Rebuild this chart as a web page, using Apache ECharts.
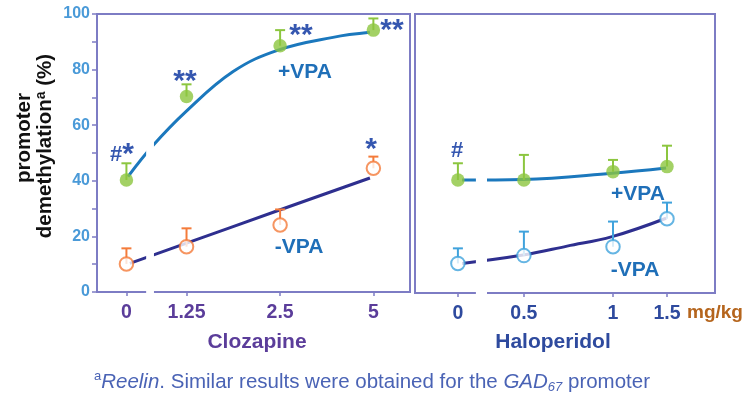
<!DOCTYPE html>
<html><head><meta charset="utf-8">
<script src="https://cdn.jsdelivr.net/npm/echarts@6/dist/echarts.min.js"></script>
<style>html,body{margin:0;padding:0;background:#fff}#c{width:747px;height:400px}</style>
</head><body><div id="c"></div>
<script>
// ---------------- data ----------------
const cloDoses = ['0', '1.25', '2.5', '5'];
const haloDoses = ['0', '0.5', '1', '1.5'];
const yTicks = [0, 20, 40, 60, 80, 100];

const cloPlus = [40.3, 70.3, 88.6, 94.2];
const cloPlusErrTop = [46.3, 74.7, 94.2, 98.4];
const cloMinus = [10.1, 16.3, 24.1, 44.5];
const cloMinusErrTop = [15.7, 22.9, 29.7, 48.7];

const haloPlus = [40.5, 40.5, 43.5, 45.3];
const haloPlusErrTop = [46.5, 49.5, 47.7, 52.8];
const haloMinus = [10.6, 13.4, 16.6, 26.6];
const haloMinusErrTop = [16.0, 22.0, 25.6, 32.4];

// fitted curves, values
const cloPlusFit = [41.5, 52.6, 64.9, 79.3, 87.1, 91.6, 93.4];
const cloMinusFit = [10.3, 17.5, 29.4, 41.0];
const haloPlusFit = [40.5, 40.7, 42.9, 44.8];
const haloMinusFit = [10.6, 13.6, 16.8, 20.2, 26.8];

// ---------------- layout (positions along each panel, % of width) ----------------
const cloX = [9.4, 28.6, 58.5, 88.3];
const haloX = [14.3, 36.3, 66.0, 84.0];
const cloPlusFitX = [9.9, 17.8, 28.4, 43.5, 58.1, 75.4, 87.2];
const cloMinusFitX = [10.5, 28.4, 58.1, 87.2];
const haloPlusFitX = [15.7, 36.0, 65.7, 83.7];
const haloMinusFitX = [15.7, 36.0, 50.7, 65.7, 83.7];
const gapL = [15.7, 18.2];
const gapR = [20.3, 24.0];

const FF = '"Liberation Sans", Arial, sans-serif';
const AX = '#7d7cc4';
const GREEN = '#8cc63f', ORANGE = '#f47b3a', LBLUE = '#3fa2dc';
const LINE_P = '#1b78bd', LINE_M = '#2e2f8f';
const STAR = '#3557b0', VPA = '#1f6fb8';

function nearestLabel(xs, labels) {
  return v => {
    let bi = 0;
    xs.forEach((x, i) => { if (Math.abs(x - v) < Math.abs(xs[bi] - v)) bi = i; });
    return labels[bi];
  };
}

function errSeries(idx, xs, tops, vals, color) {
  return {
    type: 'custom', xAxisIndex: idx, yAxisIndex: idx, z: 3, silent: true,
    data: xs.map((x, i) => [x, vals[i], tops[i]]),
    renderItem: (params, api) => {
      const p0 = api.coord([api.value(0), api.value(1)]);
      const p1 = api.coord([api.value(0), api.value(2)]);
      return {
        type: 'group', children: [
          { type: 'line', shape: { x1: p0[0], y1: p0[1], x2: p1[0], y2: p1[1] }, style: { stroke: color, lineWidth: 2 } },
          { type: 'line', shape: { x1: p1[0] - 5, y1: p1[1], x2: p1[0] + 5, y2: p1[1] }, style: { stroke: color, lineWidth: 2 } }
        ]
      };
    }
  };
}
function fitSeries(idx, xs, ys, color) {
  return {
    type: 'line', xAxisIndex: idx, yAxisIndex: idx, z: 2, smooth: 0.4, showSymbol: false, silent: true,
    data: xs.map((x, i) => [x, ys[i]]),
    lineStyle: { color: color, width: 3 }
  };
}
function dotSeries(idx, xs, ys, fill, stroke) {
  return {
    type: 'scatter', xAxisIndex: idx, yAxisIndex: idx, z: 5, symbol: 'circle', symbolSize: 13.5, silent: true,
    data: xs.map((x, i) => [x, ys[i]]),
    itemStyle: { color: fill, borderColor: stroke, borderWidth: stroke ? 2 : 0 }
  };
}
function xAxisCfg(idx, xs, labels, color) {
  return {
    type: 'value', gridIndex: idx, min: 0, max: 100,
    axisLine: { show: true, lineStyle: { color: AX, width: 2 } },
    splitLine: { show: false },
    axisTick: { show: true, customValues: xs, length: 4, lineStyle: { color: AX, width: 1.5 } },
    axisLabel: { customValues: xs, formatter: nearestLabel(xs, labels), color: color, fontSize: 19.5, fontWeight: 'bold', fontFamily: FF, margin: 11 }
  };
}

const chart = echarts.init(document.getElementById('c'));
const option = {
  animation: false,
  backgroundColor: '#fff',
  grid: [
    { left: 97, top: 14, width: 313, height: 278, show: true, borderColor: AX, borderWidth: 2 },
    { left: 415, top: 14, width: 300, height: 279, show: true, borderColor: AX, borderWidth: 2 }
  ],
  xAxis: [
    xAxisCfg(0, cloX, cloDoses, '#5b3d9a'),
    xAxisCfg(1, haloX, haloDoses, '#2e4a9e')
  ],
  yAxis: [
    {
      type: 'value', gridIndex: 0, min: 0, max: 100, interval: 20,
      axisLine: { show: true, lineStyle: { color: AX, width: 2 } },
      splitLine: { show: false },
      axisTick: { show: true, length: 5, lineStyle: { color: AX, width: 1.5 } },
      minorTick: { show: true, splitNumber: 2, length: 5, lineStyle: { color: AX, width: 1.5 } },
      axisLabel: { color: '#4a9ad8', fontSize: 16, fontWeight: 'bold', fontFamily: FF, margin: 7,
        formatter: v => (yTicks.indexOf(v) >= 0 ? String(v) : '') }
    },
    {
      type: 'value', gridIndex: 1, min: 0, max: 100, interval: 20,
      axisLine: { show: true, lineStyle: { color: AX, width: 2 } },
      splitLine: { show: false }, axisTick: { show: false }, axisLabel: { show: false }
    }
  ],
  series: [
    fitSeries(0, cloPlusFitX, cloPlusFit, LINE_P),
    fitSeries(0, cloMinusFitX, cloMinusFit, LINE_M),
    errSeries(0, cloX, cloPlusErrTop, cloPlus, GREEN),
    errSeries(0, cloX, cloMinusErrTop, cloMinus, ORANGE),
    dotSeries(0, cloX, cloPlus, GREEN, null),
    dotSeries(0, cloX, cloMinus, '#fff', ORANGE),

    fitSeries(1, haloPlusFitX, haloPlusFit, LINE_P),
    fitSeries(1, haloMinusFitX, haloMinusFit, LINE_M),
    errSeries(1, haloX, haloPlusErrTop, haloPlus, GREEN),
    errSeries(1, haloX, haloMinusErrTop, haloMinus, LBLUE),
    dotSeries(1, haloX, haloPlus, GREEN, null),
    dotSeries(1, haloX, haloMinus, '#fff', LBLUE)
  ]
};
chart.setOption(option);

function txt(x, y, text, extra) {
  return { type: 'text', x: x, y: y, z: 50, silent: true,
    style: Object.assign({ text: text, align: 'center', verticalAlign: 'middle', fontFamily: FF, fontWeight: 'bold' }, extra) };
}
const star = { fontSize: 30, fill: STAR };
const vpa = { fontSize: 21, fill: VPA };

// gaps in the axes and curves (through the chart's own scales)
const gl0 = chart.convertToPixel({ gridIndex: 0 }, [gapL[0], 56]);
const gl1 = chart.convertToPixel({ gridIndex: 0 }, [gapL[1], 0]);
const gr0 = chart.convertToPixel({ gridIndex: 1 }, [gapR[0], 46]);
const gr1 = chart.convertToPixel({ gridIndex: 1 }, [gapR[1], 0]);

const ttl = { fontFamily: FF, fontWeight: 'bold', fontSize: 20.5, fill: '#111' };

chart.setOption({
  graphic: [
    { type: 'rect', z: 40, silent: true, shape: { x: gl0[0], y: gl0[1], width: gl1[0] - gl0[0], height: gl1[1] - gl0[1] + 5 }, style: { fill: '#fff' } },
    { type: 'rect', z: 40, silent: true, shape: { x: gr0[0], y: gr0[1], width: gr1[0] - gr0[0], height: gr1[1] - gr0[1] + 5 }, style: { fill: '#fff' } },

    { type: 'text', x: 24, y: 138, rotation: Math.PI / 2, z: 50, silent: true,
      style: Object.assign({ text: 'promoter', align: 'center', verticalAlign: 'middle' }, ttl) },
    { type: 'text', x: 45, y: 146, rotation: Math.PI / 2, z: 50, silent: true,
      style: { text: '{b|demethylation}{s|a}{b| (%)}', align: 'center', verticalAlign: 'middle',
        rich: { b: Object.assign({ lineHeight: 22 }, ttl),
                s: { fontFamily: FF, fontWeight: 'bold', fontSize: 14, fill: '#111', lineHeight: 22, verticalAlign: 'top' } } } },

    { type: 'text', x: 122, y: 155, z: 50, silent: true,
      style: { text: '{h|#}{s|*}', align: 'center', verticalAlign: 'middle',
        rich: { h: { fontFamily: FF, fontWeight: 'bold', fontSize: 22, fill: STAR, lineHeight: 30 },
                s: { fontFamily: FF, fontWeight: 'bold', fontSize: 30, fill: STAR, lineHeight: 30 } } } },
    txt(185, 82, '**', star),
    txt(301, 36, '**', star),
    txt(392, 31, '**', star),
    txt(371, 150, '*', star),
    txt(305, 72, '+VPA', vpa),
    txt(299, 247, '-VPA', vpa),
    txt(457, 151, '#', { fontSize: 22, fill: STAR }),
    txt(638, 194, '+VPA', vpa),
    txt(635, 270, '-VPA', vpa),

    txt(715, 313, 'mg/kg', { fontSize: 19, fill: '#b5651d' }),
    txt(257, 342, 'Clozapine', { fontSize: 21, fill: '#5b3d9a' }),
    txt(553, 342, 'Haloperidol', { fontSize: 21, fill: '#2e4a9e' }),

    { type: 'text', x: 372, y: 382, z: 50, silent: true,
      style: { text: '{s|a}{i|Reelin}{n|. Similar results were obtained for the }{i|GAD}{b|67}{n| promoter}',
        align: 'center', verticalAlign: 'middle',
        rich: {
          n: { fontFamily: FF, fontSize: 20.5, fill: '#4a63b5', lineHeight: 24 },
          i: { fontFamily: FF, fontSize: 20.5, fontStyle: 'italic', fill: '#4a63b5', lineHeight: 24 },
          s: { fontFamily: FF, fontSize: 13, fill: '#4a63b5', lineHeight: 24, verticalAlign: 'top' },
          b: { fontFamily: FF, fontSize: 13, fontStyle: 'italic', fill: '#4a63b5', lineHeight: 24, verticalAlign: 'bottom' }
        } } }
  ]
});
</script>
</body></html>
